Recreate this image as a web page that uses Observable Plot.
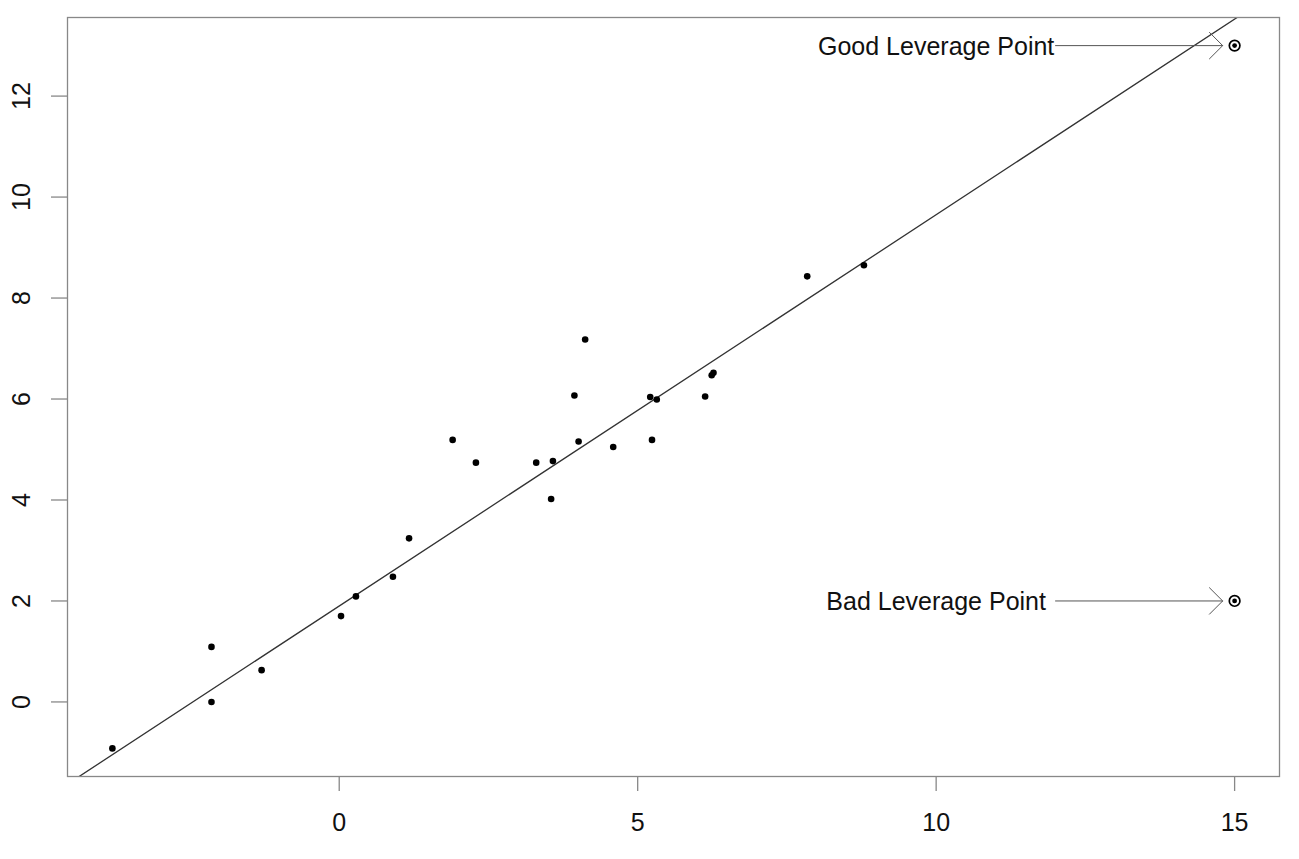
<!DOCTYPE html>
<html>
<head>
<meta charset="utf-8">
<script src="https://cdn.jsdelivr.net/npm/d3@7"></script>
<script src="https://cdn.jsdelivr.net/npm/@observablehq/plot@0.6"></script>
<style>
  html, body { margin: 0; padding: 0; background: #fff; }
  #chart svg { display: block; }
</style>
</head>
<body>
<div id="chart"></div>
<script>
// ---- data ----
const pointX = [-3.80, -2.14, -2.14, -1.30, 0.03, 0.28, 0.90, 1.17, 1.90, 2.29,
                3.30, 3.58, 3.55, 4.01, 3.94, 4.12, 4.59, 5.24, 5.21, 5.32,
                6.13, 6.24, 6.27, 7.84, 8.79];
const pointY = [-0.92, 1.09, 0.00, 0.63, 1.70, 2.09, 2.48, 3.24, 5.19, 4.74,
                4.74, 4.77, 4.02, 5.16, 6.07, 7.18, 5.05, 5.19, 6.04, 5.99,
                6.05, 6.47, 6.52, 8.43, 8.65];
const leverageLabels = ["Good Leverage Point", "Bad Leverage Point"];
const leverageX = [15, 15];
const leverageY = [13, 2];
const labelX = 10;
const arrowFrom = 12;
const arrowTo = 14.8;
const lineIntercept = 1.9;
const lineSlope = 0.775;
const xTicks = [0, 5, 10, 15];
const yTicks = [0, 2, 4, 6, 8, 10, 12];

// ---- tables ----
const points = pointX.map((x, i) => ({x, y: pointY[i]}));
const leverage = leverageLabels.map((label, i) => ({label, x: leverageX[i], y: leverageY[i]}));

// R-style 4% axis extension
function rDomain(vals) {
  const [lo, hi] = d3.extent(vals);
  const pad = (hi - lo) * 0.04;
  return [lo - pad, hi + pad];
}
const xDomain = rDomain([...pointX, ...leverageX]);
const yDomain = rDomain([...pointY, ...leverageY]);
const fitLine = xDomain.map(x => ({x, y: lineIntercept + lineSlope * x}));

const font = "'Liberation Sans', Arial, Helvetica, sans-serif";
const gray = "#888";

const chart = Plot.plot({
  width: 1299,
  height: 859,
  marginLeft: 67,
  marginRight: 20,
  marginTop: 17,
  marginBottom: 83,
  style: {fontFamily: font, background: "#fff"},
  x: {domain: xDomain, axis: null, label: null},
  y: {domain: yDomain, axis: null, label: null},
  marks: [
    Plot.axisX({ticks: xTicks, tickSize: 15, tickFormat: () => "", label: null, stroke: gray, strokeWidth: 1.3}),
    Plot.axisY({ticks: yTicks, tickSize: 16, tickFormat: () => "", label: null, stroke: gray, strokeWidth: 1.3}),
    Plot.text(xTicks, {x: d => d, frameAnchor: "bottom", dy: 46, text: d => String(d),
      fontSize: 25, fill: "#111", lineAnchor: "middle", textAnchor: "middle"}),
    Plot.text(yTicks, {y: d => d, frameAnchor: "left", dx: -46, text: d => String(d),
      fontSize: 25, fill: "#111", rotate: -90, lineAnchor: "middle", textAnchor: "middle"}),
    Plot.line(fitLine, {x: "x", y: "y", stroke: "#333", strokeWidth: 1.3, clip: true}),
    Plot.dot(points, {x: "x", y: "y", r: 3.3, fill: "#000", stroke: "none"}),
    Plot.dot(leverage, {x: "x", y: "y", r: 5.3, fill: "none", stroke: "#000", strokeWidth: 1.7}),
    Plot.dot(leverage, {x: "x", y: "y", r: 2.4, fill: "#000", stroke: "none"}),
    Plot.arrow(leverage, {x1: () => arrowFrom, x2: () => arrowTo, y1: "y", y2: "y",
      stroke: "#555", strokeWidth: 1, headAngle: 90, headLength: 28}),
    Plot.text(leverage, {x: () => labelX, y: "y", text: "label", fontSize: 25,
      fill: "#111", textAnchor: "middle", lineAnchor: "middle", dy: 1}),
    Plot.frame({stroke: gray, strokeWidth: 1.3})
  ]
});
document.getElementById("chart").appendChild(chart);
</script>
</body>
</html>
